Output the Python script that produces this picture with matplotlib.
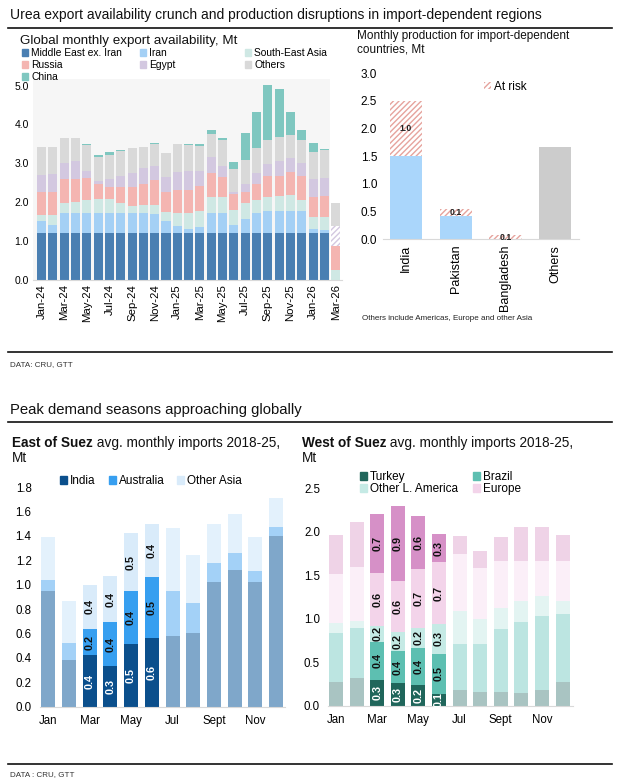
import matplotlib
matplotlib.use('Agg')
import matplotlib.pyplot as plt
from matplotlib.patches import Patch
from matplotlib.lines import Line2D
import numpy as np

plt.rcParams['font.family'] = ['Liberation Sans', 'DejaVu Sans']
plt.rcParams['hatch.linewidth'] = 1.0

# ---------------- data: global monthly export availability (Mt) ----------------
exp_months = ['Jan-24', 'Feb-24', 'Mar-24', 'Apr-24', 'May-24', 'Jun-24', 'Jul-24', 'Aug-24',
              'Sep-24', 'Oct-24', 'Nov-24', 'Dec-24', 'Jan-25', 'Feb-25', 'Mar-25', 'Apr-25',
              'May-25', 'Jun-25', 'Jul-25', 'Aug-25', 'Sep-25', 'Oct-25', 'Nov-25', 'Dec-25',
              'Jan-26', 'Feb-26', 'Mar-26']
middle_east = [1.2, 1.2, 1.2, 1.2, 1.2, 1.2, 1.2, 1.2, 1.2, 1.2, 1.2, 1.2, 1.2, 1.2, 1.2, 1.2,
               1.2, 1.2, 1.2, 1.2, 1.2, 1.2, 1.2, 1.2, 1.2, 1.2, 0.0]
iran = [0.32, 0.22, 0.53, 0.53, 0.53, 0.53, 0.53, 0.53, 0.53, 0.53, 0.49, 0.32, 0.20, 0.10,
        0.17, 0.53, 0.53, 0.21, 0.36, 0.53, 0.58, 0.58, 0.58, 0.58, 0.10, 0.08, 0.0]
se_asia = [0.16, 0.26, 0.24, 0.27, 0.32, 0.35, 0.36, 0.24, 0.17, 0.21, 0.25, 0.22, 0.33, 0.43,
           0.41, 0.41, 0.41, 0.39, 0.41, 0.32, 0.36, 0.38, 0.40, 0.29, 0.32, 0.34, 0.27]
russia = [0.58, 0.58, 0.63, 0.60, 0.57, 0.38, 0.31, 0.43, 0.50, 0.53, 0.63, 0.53, 0.58, 0.58,
          0.64, 0.62, 0.52, 0.41, 0.29, 0.42, 0.53, 0.51, 0.60, 0.60, 0.52, 0.54, 0.61]
egypt = [0.44, 0.46, 0.42, 0.45, 0.19, 0.09, 0.20, 0.27, 0.36, 0.40, 0.36, 0.39, 0.47, 0.49,
         0.39, 0.40, 0.27, 0.06, 0.21, 0.29, 0.31, 0.40, 0.36, 0.33, 0.45, 0.47, 0.52]
others = [0.71, 0.69, 0.62, 0.59, 0.66, 0.61, 0.62, 0.65, 0.63, 0.54, 0.57, 0.60, 0.71, 0.67,
          0.64, 0.60, 0.66, 0.58, 0.62, 0.63, 0.62, 0.62, 0.59, 0.60, 0.69, 0.72, 0.57]
china = [0.02, 0.02, 0.02, 0.02, 0.02, 0.06, 0.08, 0.02, 0.01, 0.02, 0.02, 0.01, 0.02, 0.02,
         0.04, 0.09, 0.05, 0.19, 0.70, 0.92, 1.42, 1.23, 0.60, 0.26, 0.25, 0.02, 0.02]
exp_series = ['Middle East ex. Iran', 'Iran', 'South-East Asia', 'Russia', 'Egypt', 'Others', 'China']
hatched_month = 'Mar-26'

# ---------------- data: production for import-dependent countries (Mt) ----------------
prod_countries = ['India', 'Pakistan', 'Bangladesh', 'Others']
prod_safe = [1.5, 0.43, 0.0, 0.0]
prod_at_risk = [1.0, 0.12, 0.07, 0.0]
prod_others = [0.0, 0.0, 0.0, 1.67]

# ---------------- data: East of Suez avg monthly imports 2018-25 (Mt) ----------------
imp_months = ['Jan', 'Feb', 'Mar', 'Apr', 'May', 'Jun', 'Jul', 'Aug', 'Sep', 'Oct', 'Nov', 'Dec']
imp_tick_labels = ['Jan', '', 'Mar', '', 'May', '', 'Jul', '', 'Sept', '', 'Nov', '']
east_india = [0.95, 0.38, 0.42, 0.33, 0.51, 0.56, 0.58, 0.60, 1.02, 1.12, 1.02, 1.40]
east_australia = [0.09, 0.14, 0.22, 0.36, 0.44, 0.50, 0.37, 0.25, 0.16, 0.14, 0.09, 0.07]
east_other_asia = [0.35, 0.35, 0.36, 0.38, 0.47, 0.44, 0.51, 0.39, 0.32, 0.32, 0.28, 0.24]
east_peak = ['Mar', 'Apr', 'May', 'Jun']

# ---------------- data: West of Suez avg monthly imports 2018-25 (Mt) ----------------
west_turkey = [0.28, 0.32, 0.30, 0.26, 0.24, 0.14, 0.18, 0.16, 0.16, 0.15, 0.18, 0.28]
west_brazil = [0.56, 0.58, 0.44, 0.37, 0.43, 0.46, 0.53, 0.55, 0.72, 0.82, 0.85, 0.78]
west_other_la = [0.11, 0.08, 0.18, 0.22, 0.23, 0.34, 0.38, 0.29, 0.25, 0.24, 0.23, 0.15]
west_europe = [0.57, 0.62, 0.61, 0.59, 0.67, 0.71, 0.65, 0.58, 0.54, 0.46, 0.41, 0.45]
west_other = [0.44, 0.51, 0.68, 0.86, 0.61, 0.32, 0.21, 0.20, 0.27, 0.39, 0.38, 0.30]
west_peak = ['Mar', 'Apr', 'May', 'Jun']

W, H = 620, 779
fig = plt.figure(figsize=(W / 100, H / 100), dpi=100)


def fx(x):
    return x / W


def fy(y):
    return 1 - y / H


def hline(y, x0=8, x1=612, lw=1.2):
    fig.add_artist(Line2D([fx(x0), fx(x1)], [fy(y), fy(y)], color='#111111', lw=lw))


# ---------- section headers ----------
fig.text(fx(10), fy(19), 'Urea export availability crunch and production disruptions in import-dependent regions',
         fontsize=10.0, color='#111111', va='baseline')
hline(28)
hline(352)
fig.text(fx(10), fy(366), 'DATA: CRU, GTT', fontsize=5.8, color='#333333', va='baseline')
fig.text(fx(10), fy(414), 'Peak demand seasons approaching globally', fontsize=10.7, color='#111111', va='baseline')
hline(422)
hline(764)
fig.text(fx(10), fy(776), 'DATA : CRU, GTT', fontsize=5.8, color='#333333', va='baseline')

# ---------- top-left: export availability ----------
ax1 = fig.add_axes([fx(33), fy(280), fx(342) - fx(33), fy(79) - fy(280)])
x = np.arange(len(exp_months))
cols1 = ['#4a7fb2', '#a4d0f5', '#cfe8e4', '#f4b5b1', '#d3c8e0', '#d9d9d9', '#7fc7c0']
bottom = np.zeros(len(x))
hatch_idx = exp_months.index(hatched_month)
for name, vals, c in zip(exp_series, [middle_east, iran, se_asia, russia, egypt, others, china], cols1):
    vals = np.array(vals)
    for i in range(len(x)):
        if name == 'Egypt' and i == hatch_idx:
            ax1.bar(x[i], vals[i], 0.8, bottom=bottom[i], facecolor='white', edgecolor=c,
                    hatch='//////', linewidth=0)
        else:
            ax1.bar(x[i], vals[i], 0.8, bottom=bottom[i], color=c, linewidth=0)
    bottom += vals
ax1.axvspan(-0.75, 25.5, color='#f6f6f6', zorder=0, lw=0)
ax1.set_xlim(-0.75, 26.55)
ax1.set_ylim(0, 5.17)
ax1.set_yticks([0, 1, 2, 3, 4, 5])
ax1.set_yticklabels(['0.0', '1.0', '2.0', '3.0', '4.0', '5.0'], fontsize=7.5)
ax1.set_xticks(x[::2])
ax1.set_xticklabels(exp_months[::2], rotation=90, fontsize=8.2)
for s in ['top', 'right', 'left']:
    ax1.spines[s].set_visible(False)
ax1.spines['bottom'].set_color('#d9d9d9')
ax1.tick_params(length=0, pad=3)
ax1.set_facecolor('none')

fig.text(fx(20), fy(44), 'Global monthly export availability, Mt', fontsize=9.6, color='#111111', va='baseline')
leg_cols = [(['Middle East ex. Iran', 'Russia', 'China'], 19),
            (['Iran', 'Egypt'], 137),
            (['South-East Asia', 'Others'], 242)]
for names, xpos in leg_cols:
    hs = [Patch(color=cols1[exp_series.index(n)]) for n in names]
    fig.legend(hs, names, loc='upper left', bbox_to_anchor=(fx(xpos), fy(45)), frameon=False,
               fontsize=7.4, handlelength=0.6, handleheight=0.6, handletextpad=0.3,
               labelspacing=0.2, borderaxespad=0, borderpad=0.3)

# ---------- top-right: production ----------
ax2 = fig.add_axes([fx(382.7), fy(239.3), fx(579) - fx(382.7), fy(73.3) - fy(239.3)])
xp = np.arange(len(prod_countries))
ax2.bar(xp, prod_safe, 0.65, color='#aad6fb', linewidth=0)
ax2.bar(xp, prod_at_risk, 0.65, bottom=prod_safe, facecolor='white', edgecolor='#e6a39d',
        hatch='//////', linewidth=0)
ax2.bar(xp, prod_others, 0.65, color='#cccccc', linewidth=0)
for i in range(len(xp)):
    if prod_at_risk[i] > 0:
        ax2.text(xp[i], prod_safe[i] + prod_at_risk[i] / 2, f'{prod_at_risk[i]:.1f}', ha='center',
                 va='center', fontsize=6.2, fontweight='bold', color='#222222')
ax2.set_xlim(-0.47, 3.48)
ax2.set_ylim(0, 3.0)
ax2.set_yticks([0, 0.5, 1.0, 1.5, 2.0, 2.5, 3.0])
ax2.set_yticklabels(['0.0', '0.5', '1.0', '1.5', '2.0', '2.5', '3.0'], fontsize=8.5)
ax2.set_xticks(xp)
ax2.set_xticklabels(prod_countries, rotation=90, fontsize=9)
for s in ['top', 'right', 'left']:
    ax2.spines[s].set_visible(False)
ax2.spines['bottom'].set_color('#d9d9d9')
ax2.tick_params(length=0, pad=4)
ax2.legend([Patch(facecolor='white', edgecolor='#e6a39d', hatch='//////', linewidth=0)], ['At risk'],
           loc='upper left', bbox_to_anchor=(0.49, 0.985), frameon=False, fontsize=8.5,
           handlelength=0.6, handleheight=0.6, handletextpad=0.3, borderaxespad=0)
fig.text(fx(357), fy(53), 'Monthly production for import-dependent\ncountries, Mt', fontsize=8.5,
         color='#111111', va='baseline', linespacing=1.2)
fig.text(fx(362), fy(320), 'Others include Americas, Europe and other Asia', fontsize=5.8, color='#222222',
         va='baseline')


# ---------- helper for bold+regular titles ----------
def mixed_title(x, y, bold, rest, line2, size):
    t = fig.text(fx(x), fy(y), bold, fontsize=size, fontweight='bold', va='baseline', color='#111111')
    r = fig.canvas.get_renderer()
    bb = t.get_window_extent(r)
    fig.text(bb.x1 / fig.bbox.width, fy(y), rest, fontsize=size, va='baseline', color='#111111')
    fig.text(fx(x), fy(y + 15), line2, fontsize=size, va='baseline', color='#111111')


def style_bottom(ax, ylim, ticks, ticklabels):
    ax.set_ylim(0, ylim)
    ax.set_yticks(ticks)
    ax.set_yticklabels(ticklabels, fontsize=8.3)
    ax.set_xticks(np.arange(len(imp_months)))
    ax.set_xticklabels(imp_tick_labels, fontsize=8.3)
    for s in ['top', 'right', 'left']:
        ax.spines[s].set_visible(False)
    ax.spines['bottom'].set_color('#d9d9d9')
    ax.tick_params(length=0, pad=6)


def stacked(ax, series, bright, muted, text_cols, peak):
    xm = np.arange(len(imp_months))
    bot = np.zeros(len(xm))
    for vals, cb, cm, tc in zip(series, bright, muted, text_cols):
        vals = np.array(vals)
        colors = [cb if m in peak else cm for m in imp_months]
        ax.bar(xm, vals, 0.68, bottom=bot, color=colors, linewidth=0)
        for i, m in enumerate(imp_months):
            if m in peak:
                ax.text(xm[i], bot[i] + vals[i] / 2, f'{vals[i]:.1f}', rotation=90, ha='center', va='center',
                        fontsize=7.8, fontweight='bold', color=tc)
        bot += vals


# ---------- bottom-left: East of Suez ----------
ax3 = fig.add_axes([fx(40), fy(706.7), fx(285) - fx(40), fy(487) - fy(706.7)])
east_bright = ['#0b4f8c', '#379ff0', '#d9ebfa']
east_muted = ['#7fa7ca', '#a3d1f7', '#e3f1fc']
stacked(ax3, [east_india, east_australia, east_other_asia], east_bright, east_muted,
        ['white', '#111111', '#111111'], east_peak)
ax3.set_xlim(-0.4, 11.43)
style_bottom(ax3, 1.8, [0, 0.2, 0.4, 0.6, 0.8, 1.0, 1.2, 1.4, 1.6, 1.8],
             ['0.0', '0.2', '0.4', '0.6', '0.8', '1.0', '1.2', '1.4', '1.6', '1.8'])
mixed_title(12, 447, 'East of Suez', ' avg. monthly imports 2018-25,', 'Mt', 9.8)
fig.legend([Patch(color=c) for c in east_bright], ['India', 'Australia', 'Other Asia'], ncol=3,
           loc='center left', bbox_to_anchor=(fx(60), fy(481)), frameon=False, fontsize=8.5,
           handlelength=0.6, handleheight=0.6, handletextpad=0.25, columnspacing=1.1, borderaxespad=0,
           borderpad=0)

# ---------- bottom-right: West of Suez ----------
ax4 = fig.add_axes([fx(328.3), fy(706), fx(573.3) - fx(328.3), fy(488.3) - fy(706)])
west_bright = ['#20665b', '#5dbfb1', '#c5eae5', '#f3d4ea', '#d690c7']
west_muted = ['#a9c4c2', '#bce5e1', '#e3f4f2', '#fbeff8', '#efd3e7']
stacked(ax4, [west_turkey, west_brazil, west_other_la, west_europe, west_other], west_bright, west_muted,
        ['white', '#111111', '#111111', '#111111', '#111111'], west_peak)
ax4.set_xlim(-0.37, 11.52)
style_bottom(ax4, 2.5, [0, 0.5, 1.0, 1.5, 2.0, 2.5], ['0.0', '0.5', '1.0', '1.5', '2.0', '2.5'])
mixed_title(302, 447, 'West of Suez', ' avg. monthly imports 2018-25,', 'Mt', 9.8)
west_names = ['Turkey', 'Other L. America', 'Brazil', 'Europe']
west_leg_cols = [west_bright[0], west_bright[2], west_bright[1], west_bright[3]]
fig.legend([Patch(color=c) for c in west_leg_cols], west_names, ncol=2,
           loc='upper left', bbox_to_anchor=(fx(360), fy(471)), frameon=False, fontsize=8.5,
           handlelength=0.6, handleheight=0.6, handletextpad=0.25, columnspacing=1.3, labelspacing=0.0,
           borderaxespad=0, borderpad=0)

fig.savefig('out.png', dpi=100)
